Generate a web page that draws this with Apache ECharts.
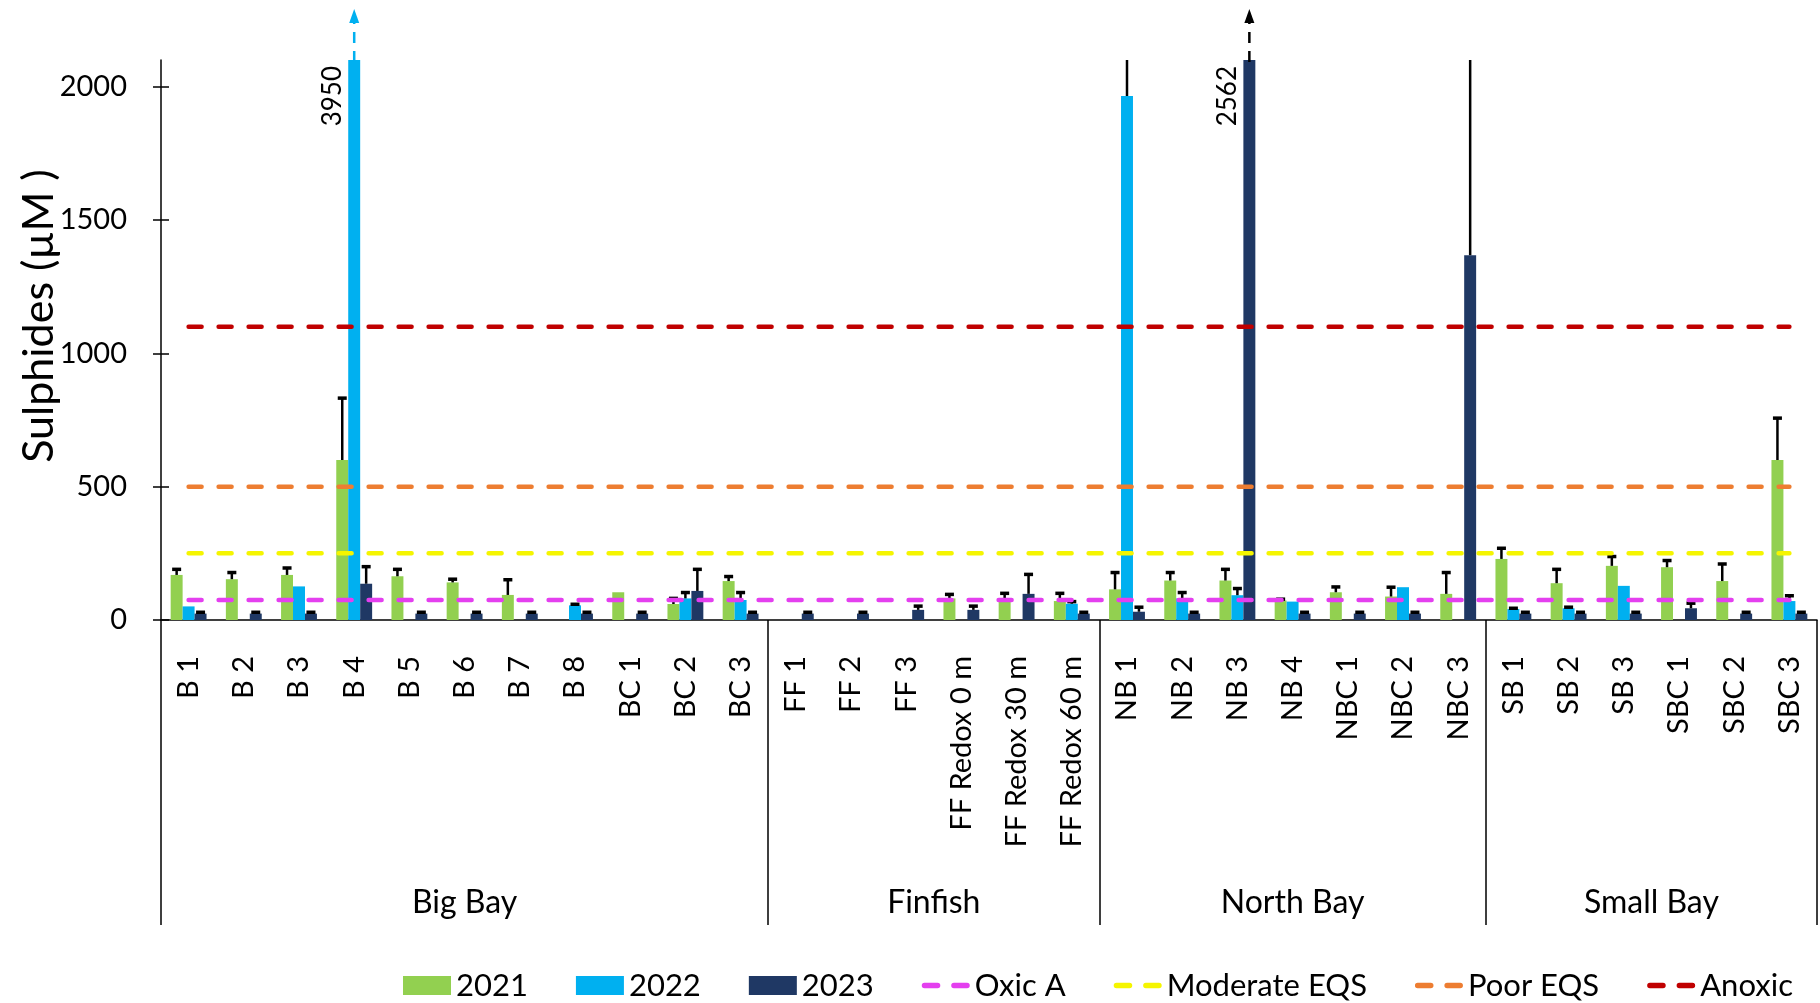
<!DOCTYPE html>
<html>
<head>
<meta charset="utf-8">
<script src="https://cdn.jsdelivr.net/npm/echarts@6/dist/echarts.min.js"></script>
<style>
html, body { margin: 0; padding: 0; background: #fff; }
#main { width: 1820px; height: 1003px; }
</style>
</head>
<body>
<div id="main"></div>
<script>
var chartDom = document.getElementById('main');
var myChart = echarts.init(chartDom, null, { renderer: 'canvas' });
var option;

// sampling sites, grouped by area
const groups = ['Big Bay', 'Finfish', 'North Bay', 'Small Bay'];
const groupSizes = [11, 6, 7, 6];
const sites = [
    'B 1', 'B 2', 'B 3', 'B 4', 'B 5', 'B 6', 'B 7', 'B 8', 'BC 1', 'BC 2', 'BC 3',
    'FF 1', 'FF 2', 'FF 3', 'FF Redox 0 m', 'FF Redox 30 m', 'FF Redox 60 m',
    'NB 1', 'NB 2', 'NB 3', 'NB 4', 'NBC 1', 'NBC 2', 'NBC 3',
    'SB 1', 'SB 2', 'SB 3', 'SBC 1', 'SBC 2', 'SBC 3'
];
const years = ['2021', '2022', '2023'];

// mean sulphides (uM) and error, null = not sampled
const mean2021 = [169, 153, 169, 600, 164, 141, 94, null, 104, 60, 146,
    null, null, null, 81, 81, 71,
    115, 148, 148, 73, 104, 88, 98,
    229, 138, 203, 198, 146, 600];
const err2021 = [21, 25, 26, 232, 26, 12, 57, 0, 0, 21, 17,
    0, 0, 0, 15, 19, 29,
    63, 30, 42, 5, 20, 35, 80,
    40, 52, 35, 25, 64, 157];
const mean2022 = [51, null, 126, 3950, null, null, null, 55, null, 81, 75,
    null, null, null, null, null, 61,
    1965, 81, 93, 69, null, 123, null,
    41, 44, 128, null, null, 71];
const err2022 = [0, 0, 0, 0, 0, 0, 0, 4, 0, 22, 28,
    0, 0, 0, 0, 0, 8,
    600, 22, 25, 0, 0, 0, 0,
    3, 4, 0, 0, 0, 20];
const mean2023 = [24, 24, 24, 136, 24, 24, 24, 24, 24, 109, 24,
    24, 24, 38, 38, 98, 24,
    31, 24, 2562, 24, 24, 24, 1368,
    24, 24, 24, 44, 24, 24];
const err2023 = [5, 5, 5, 64, 5, 5, 5, 5, 5, 81, 5,
    5, 5, 14, 14, 73, 5,
    17, 5, 0, 5, 5, 5, 900,
    5, 5, 5, 19, 5, 5];

// reference levels
const levelNames = ['Oxic A', 'Moderate EQS', 'Poor EQS', 'Anoxic'];
const levelValues = [75, 250, 500, 1100];

const yTicks = [0, 500, 1000, 1500, 2000];
const yMax = 2100;

const barColors = ['#92D050', '#00B0F0', '#1F3864'];
const levelColors = ['#E43FEF', '#F5F500', '#ED7D31', '#C00000'];
const font = 'Lato';
const catGap = 0.35;
// two short dashes for the legend of the level lines
const dashIcon = 'path://M2.5,0H14.5A2.5,2.5,0,0,1,14.5,5H2.5A2.5,2.5,0,0,1,2.5,0Z' +
    'M29.5,0H41.5A2.5,2.5,0,0,1,41.5,5H29.5A2.5,2.5,0,0,1,29.5,0Z';

const means = [mean2021, mean2022, mean2023];
const errs = [err2021, err2022, err2023];

// group centres and borders on a 0..30 helper axis
const groupEdges = [0];
const groupCentres = [];
groupSizes.forEach(function (n, i) {
    groupCentres.push(groupEdges[i] + n / 2);
    groupEdges.push(groupEdges[i] + n);
});

const errData = [];
const outData = [];
means.forEach(function (arr, s) {
    arr.forEach(function (v, i) {
        if (v == null) return;
        if (errs[s][i] > 0) errData.push([i, v, errs[s][i], s]);
        if (v > yMax) outData.push([i, s, v]);
    });
});

function barX(api, cat, s) {
    const band = api.size([1, 0])[0];
    const bw = band * (1 - catGap) / 3;
    return api.coord([cat, 0])[0] + (s - 1) * bw;
}

function renderErr(params, api) {
    const cat = api.value(0), v = api.value(1), e = api.value(2), s = api.value(3);
    const x = barX(api, cat, s);
    const clipped = v + e > yMax;
    const y0 = api.coord([cat, Math.min(v, yMax)])[1];
    const y1 = api.coord([cat, Math.min(v + e, yMax)])[1];
    const children = [{
        type: 'line',
        shape: { x1: x, y1: y0, x2: x, y2: y1 },
        style: { stroke: '#000', lineWidth: 2.5 }
    }];
    if (!clipped) {
        children.push({
            type: 'line',
            shape: { x1: x - 4.5, y1: y1, x2: x + 4.5, y2: y1 },
            style: { stroke: '#000', lineWidth: 3.5 }
        });
    }
    return { type: 'group', children: children };
}

function renderOut(params, api) {
    const cat = api.value(0), s = api.value(1), v = api.value(2);
    const x = barX(api, cat, s);
    const yTop = api.coord([cat, yMax])[1];
    const col = s === 2 ? '#000' : barColors[s];
    return {
        type: 'group',
        children: [
            {
                type: 'line',
                shape: { x1: x, y1: yTop + 2, x2: x, y2: yTop - 38 },
                style: { stroke: col, lineWidth: 2.5, lineDash: [11, 8] }
            },
            {
                type: 'polygon',
                shape: { points: [[x, yTop - 51], [x - 5, yTop - 37], [x + 5, yTop - 37]] },
                style: { fill: col }
            },
            {
                type: 'text',
                x: x - 22,
                y: yTop + 6,
                rotation: Math.PI / 2,
                style: {
                    text: String(v),
                    align: 'right',
                    verticalAlign: 'middle',
                    font: '26px ' + font,
                    fill: '#000'
                }
            }
        ]
    };
}

const series = [];
years.forEach(function (y, s) {
    series.push({
        name: y,
        type: 'bar',
        data: means[s],
        barGap: '0%',
        barCategoryGap: (catGap * 100) + '%',
        itemStyle: { color: barColors[s] },
        clip: true,
        z: 2
    });
});
series.push({
    type: 'custom',
    name: 'err',
    data: errData,
    renderItem: renderErr,
    encode: { x: 0, y: 1 },
    silent: true,
    z: 3
});
levelNames.forEach(function (n, i) {
    series.push({
        name: n,
        type: 'line',
        data: [[sites[0], levelValues[i]], [sites[sites.length - 1], levelValues[i]]],
        symbol: 'none',
        silent: true,
        lineStyle: { color: levelColors[i], width: 4.5, type: [13, 17], cap: 'round' },
        itemStyle: { color: levelColors[i] },
        z: 4
    });
});
series.push({
    type: 'custom',
    name: 'out',
    data: outData,
    renderItem: renderOut,
    encode: { x: 0, y: 2 },
    silent: true,
    clip: false,
    z: 5
});

const legendData = years.map(function (y) {
    return { name: y, icon: 'rect' };
}).concat(levelNames.map(function (n, i) {
    return { name: n, icon: dashIcon, itemStyle: { color: levelColors[i] } };
}));

option = {
    backgroundColor: '#fff',
    animation: false,
    textStyle: { fontFamily: font, color: '#000' },
    grid: { left: 161, right: 3, top: 60, bottom: 383, outerBoundsMode: 'none' },
    legend: {
        data: legendData,
        left: 398,
        top: 965,
        itemGap: 48,
        itemWidth: 48,
        itemHeight: 19,
        textStyle: { fontSize: 31, fontFamily: font, color: '#000' }
    },
    xAxis: [
        {
            type: 'category',
            data: sites,
            position: 'bottom',
            axisLine: { lineStyle: { color: '#000', width: 1.5 } },
            axisTick: { show: false },
            axisLabel: {
                interval: 0,
                rotate: 90,
                margin: 36,
                fontSize: 29,
                fontFamily: font,
                color: '#000'
            }
        },
        {
            type: 'value',
            min: 0,
            max: sites.length,
            position: 'bottom',
            axisLine: { show: false },
            splitLine: { show: false },
            axisTick: {
                show: true,
                customValues: groupEdges,
                length: 305,
                lineStyle: { color: '#000', width: 1.5 }
            },
            axisLabel: {
                customValues: groupCentres,
                margin: 267,
                fontSize: 32,
                fontFamily: font,
                color: '#000',
                formatter: function (v) {
                    return groups[groupCentres.indexOf(v)] || '';
                }
            }
        }
    ],
    yAxis: [
        {
            type: 'value',
            min: 0,
            max: yMax,
            interval: 500,
            name: 'Sulphides (µM )',
            nameLocation: 'middle',
            nameGap: 100,
            nameRotate: 90,
            nameMoveOverlap: false,
            nameTextStyle: { fontSize: 43, fontFamily: font, color: '#000', padding: [0, 0, 0, 48] },
            axisLine: { show: true, lineStyle: { color: '#000', width: 1.5 } },
            axisTick: {
                show: true,
                length: 8,
                customValues: yTicks,
                lineStyle: { color: '#000', width: 1.5 }
            },
            axisLabel: {
                customValues: yTicks,
                margin: 34,
                fontSize: 29,
                fontFamily: font,
                color: '#000',
                formatter: function (v) { return String(v); }
            },
            splitLine: { show: false }
        },
        {
            type: 'value',
            min: 0,
            max: yMax,
            interval: 500,
            position: 'left',
            axisLine: { show: false },
            axisTick: {
                show: true,
                inside: true,
                length: 8,
                customValues: yTicks,
                lineStyle: { color: '#000', width: 1.5 }
            },
            axisLabel: { show: false },
            splitLine: { show: false }
        }
    ],
    series: series
};

option && myChart.setOption(option);
</script>
</body>
</html>
